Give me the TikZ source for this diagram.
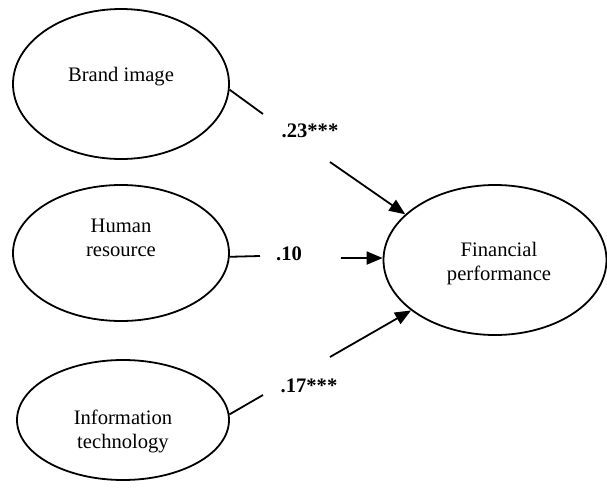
\documentclass[tikz,border=0pt]{standalone}
\usepackage{fontspec}
\setmainfont{Liberation Serif}
\usetikzlibrary{shapes.geometric,arrows.meta}
\begin{document}
\begin{tikzpicture}[x=0.5pt,y=-0.5pt,
  latent/.style={draw,ellipse,line width=0.9pt,inner sep=0pt},
  txt/.style={align=center,font=\fontsize{10.3}{12}\selectfont},
  coef/.style={font=\fontsize{10.3}{12}\selectfont\bfseries},
  seg/.style={line width=0.9pt},
  arr/.style={line width=0.9pt,-{Triangle[length=8pt,width=6.5pt]}}]
\useasboundingbox (0,0) rectangle (607,488);
% ellipses
\node[latent,minimum width=108pt,minimum height=75pt] (b) at (121,84) {};
\node[latent,minimum width=108pt,minimum height=68pt] (h) at (121,253) {};
\node[latent,minimum width=106pt,minimum height=60pt] (i) at (123,420) {};
\node[latent,minimum width=111.5pt,minimum height=75pt] (f) at (495,260) {};
% texts
\node[txt] (bt) at (121,77) {Brand image};
\node[txt] (ht) at (121,238) {Human\\resource};
\node[txt] (it) at (123,431) {Information\\technology};
\node[txt] (ft) at (499,264) {Financial\\performance};
% coefficients
\node[coef] (c1) at (310,131) {.23***};
\node[coef] (c2) at (289,254) {.10};
\node[coef] (c3) at (309,386) {.17***};
% connector pieces
\coordinate (b1) at (263,114);
\coordinate (b2) at (330,162);
\coordinate (h1) at (260,256);
\coordinate (h2) at (341,258);
\coordinate (i1) at (263,395);
\coordinate (i2) at (330,357);
\draw[seg] (b.357) -- (b1);
\draw[arr] (b2) -- (f.153.7);
\draw[seg] (h.358) -- (h1);
\draw[arr] (h2) -- (f.179);
\draw[seg] (i.3) -- (i1);
\draw[arr] (i2) -- (f.211.4);
\end{tikzpicture}
\end{document}
